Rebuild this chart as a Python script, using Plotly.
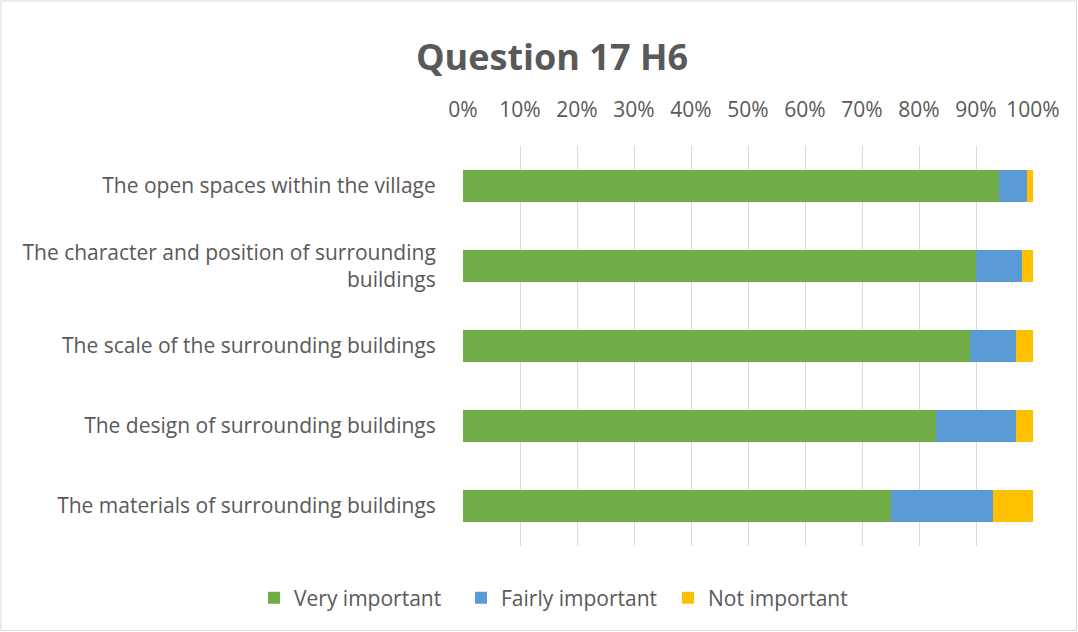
import plotly.graph_objects as go

categories = [
    "The open spaces within the village",
    "The character and position of surrounding<br>buildings",
    "The scale of the surrounding buildings",
    "The design of surrounding buildings",
    "The materials of surrounding buildings",
]
very_important = [94, 90, 89, 83, 75]
fairly_important = [5, 8, 8, 14, 18]
not_important = [1, 2, 3, 3, 7]
series_names = ["Very important", "Fairly important", "Not important"]
colors = ["#70AD47", "#5B9BD5", "#FFC000"]
tick_vals = [0, 10, 20, 30, 40, 50, 60, 70, 80, 90, 100]
tick_text = [f"{v}%" for v in tick_vals]

FONT = "Open Sans, sans-serif"
W, H = 1078, 632
L, R, T, B = 463, 45, 146, 86

fig = go.Figure()
for name, vals, col in zip(series_names, [very_important, fairly_important, not_important], colors):
    fig.add_trace(go.Bar(
        y=categories, x=vals, name=name, orientation="h",
        marker=dict(color=col, line=dict(width=0)),
    ))

pw, ph = W - L - R, H - T - B
fig.update_layout(
    width=W, height=H,
    barmode="stack", bargap=0.59,
    paper_bgcolor="white", plot_bgcolor="white",
    margin=dict(l=L, r=R, t=T, b=B, pad=0, autoexpand=False),
    font=dict(family=FONT, size=21, color="#595959"),
    title=dict(text="<b>Question 17 H6</b>", x=552 / W, xanchor="center",
               y=1 - 57 / H, yanchor="middle",
               font=dict(family=FONT, size=36, color="#595959")),
    xaxis=dict(side="top", range=[0, 100], tickvals=tick_vals, ticktext=tick_text,
               showgrid=True, gridcolor="#D9D9D9", gridwidth=1.3, zeroline=False,
               showline=False, ticks="outside", ticklen=20, tickcolor="rgba(0,0,0,0)",
               tickfont=dict(size=21, color="#595959"), fixedrange=True),
    yaxis=dict(autorange="reversed", showgrid=False, zeroline=False, showline=False,
               ticks="outside", ticklen=22, tickcolor="rgba(0,0,0,0)",
               tickfont=dict(size=21, color="#595959")),
    legend=dict(orientation="h", x=(254 - L) / pw, xanchor="left",
                y=-(598 - (H - B)) / ph, yanchor="middle",
                font=dict(size=21, color="#595959"), traceorder="normal",
                itemwidth=30, entrywidth=162, bgcolor="rgba(0,0,0,0)"),
    shapes=[dict(type="rect", xref="paper", yref="paper",
                 x0=-(L - 1) / pw, x1=1 + (R - 1.5) / pw,
                 y0=-(B - 1.5) / ph, y1=1 + (T - 1) / ph,
                 line=dict(color="#D9D9D9", width=1), fillcolor="rgba(0,0,0,0)", layer="below")],
)

fig.write_html("out.html", config={"displayModeBar": False},
               post_script="document.body.style.margin='0';")
